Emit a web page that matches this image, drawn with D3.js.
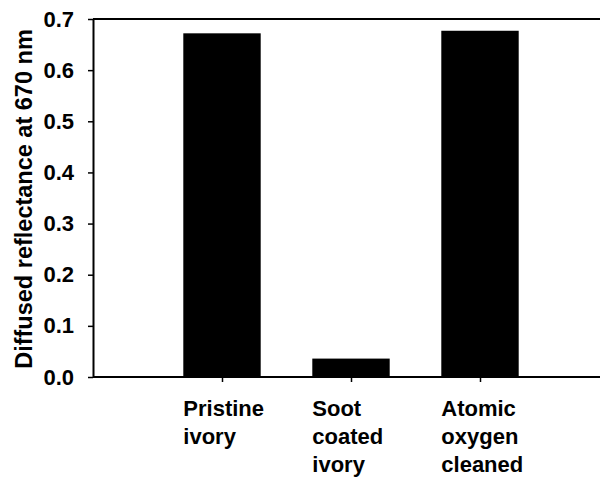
<!DOCTYPE html>
<html>
<head>
<meta charset="utf-8">
<script src="https://cdn.jsdelivr.net/npm/d3@7"></script>
<style>
  body { margin: 0; background: #fff; }
  svg { display: block; }
  text { font-family: 'Liberation Sans', Arial, sans-serif; font-weight: bold; fill: #000; }
</style>
</head>
<body>
<div id="chart"></div>
<script>
let categories = ['Pristine ivory', 'Soot coated ivory', 'Atomic oxygen cleaned']

let labelLines = [['Pristine', 'ivory'], ['Soot', 'coated', 'ivory'], ['Atomic', 'oxygen', 'cleaned']]

let reflectance = [0.672, 0.036, 0.677]

let yTicks = [0, 0.1, 0.2, 0.3, 0.4, 0.5, 0.6, 0.7]

let width = 600

let height = 481

let margin = { top: 19, right: 0, bottom: 104, left: 93 }

let innerHeight = height - margin.top - margin.bottom

let svg = d3.select('#chart').append('svg')
  .attr('width', width)
  .attr('height', height)

let g = svg.append('g')
  .attr('transform', 'translate(' + margin.left + ',' + margin.top + ')')

// the plot runs a bit past the right edge of the picture
let xScale = d3.scalePoint()
  .domain(categories)
  .range([0, 516])
  .padding(1)

let barWidth = xScale.step() * 0.6

let yScale = d3.scaleLinear()
  .domain([0, 0.7])
  .range([innerHeight, 0])

g.selectAll('rect.bar')
  .data(categories)
  .enter()
  .append('rect')
  .attr('class', 'bar')
  .attr('x', function (d) { return xScale(d) - barWidth / 2 })
  .attr('width', barWidth)
  .attr('y', function (d, i) { return yScale(reflectance[i]) })
  .attr('height', function (d, i) { return innerHeight - yScale(reflectance[i]) })
  .attr('fill', '#000')

// top frame line
g.append('line')
  .attr('x1', 0).attr('x2', width - margin.left)
  .attr('y1', 0).attr('y2', 0)
  .attr('stroke', '#000')
  .attr('stroke-width', 2)

let yAxis = g.append('g')
  .call(d3.axisLeft(yScale)
    .tickValues(yTicks)
    .tickFormat(d3.format('.1f'))
    .tickSize(5)
    .tickSizeOuter(0)
    .tickPadding(14))
yAxis.attr('font-size', null).attr('font-family', null)
yAxis.select('.domain').attr('stroke-width', 2)
yAxis.selectAll('.tick line').attr('stroke-width', 1.5)
yAxis.selectAll('text').attr('font-size', 22)

let xAxis = g.append('g')
  .attr('transform', 'translate(0,' + innerHeight + ')')
  .call(d3.axisBottom(xScale).tickSize(5).tickSizeOuter(0))
xAxis.selectAll('.tick text').remove()
xAxis.select('.domain')
  .attr('d', 'M0,0H' + (width - margin.left))
  .attr('stroke-width', 2)
xAxis.selectAll('.tick line').attr('stroke-width', 1.5)

let labels = g.selectAll('text.xlabel')
  .data(categories)
  .enter()
  .append('text')
  .attr('class', 'xlabel')
  .attr('font-size', 22)
  .attr('x', function (d) { return xScale(d) - barWidth / 2 })
  .attr('y', innerHeight + 39)

labels.selectAll('tspan')
  .data(function (d, i) { return labelLines[i] })
  .enter()
  .append('tspan')
  .attr('x', function () { return d3.select(this.parentNode).attr('x') })
  .attr('dy', function (d, i) { return i === 0 ? 0 : 28 })
  .text(function (d) { return d })

svg.append('text')
  .attr('transform', 'translate(32,' + (margin.top + innerHeight / 2 + 1) + ') rotate(-90)')
  .attr('text-anchor', 'middle')
  .attr('font-size', 23.5)
  .text('Diffused reflectance at 670 nm')
</script>
</body>
</html>
